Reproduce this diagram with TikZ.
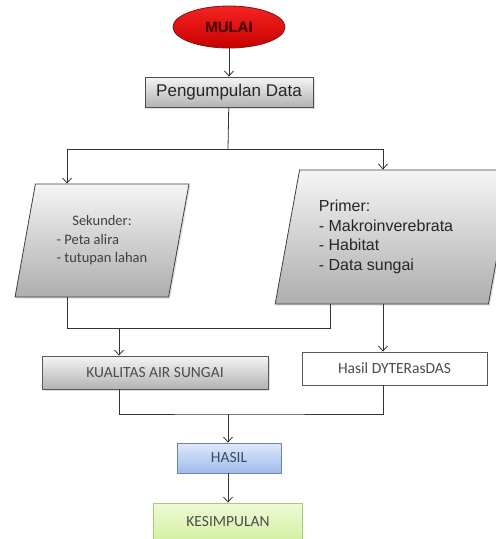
\documentclass[tikz,border=0pt]{standalone}
\usepackage{fontspec}
\setmainfont{Carlito}
\newfontfamily\arialfont{Liberation Sans}
\usetikzlibrary{arrows.meta,shapes.geometric,shadows,calc}

\definecolor{merahA}{RGB}{245,35,35}
\definecolor{merahB}{RGB}{200,0,0}
\definecolor{merahC}{RGB}{130,20,20}
\definecolor{biruA}{RGB}{222,232,250}
\definecolor{biruB}{RGB}{160,188,236}
\definecolor{biruC}{RGB}{110,130,170}
\definecolor{hijauA}{RGB}{240,250,215}
\definecolor{hijauB}{RGB}{210,240,160}
\definecolor{hijauC}{RGB}{170,200,120}

\tikzset{
  garis/.style={draw=black!80, line width=0.8pt},
  panah/.style={garis, -{Straight Barb[length=5pt,width=9pt,line width=0.8pt]}},
  kotak/.style={rectangle, draw=black!65, line width=0.8pt, inner sep=0pt,
    font=\fontsize{15.5}{18}\selectfont, text=black!70},
  abu/.style={top color=black!4, bottom color=black!30},
  bayang/.style={drop shadow={opacity=0.25,shadow xshift=1.5pt,shadow yshift=-1.5pt}},
  jajar/.style={trapezium, trapezium stretches=true, trapezium left angle=76,
    trapezium right angle=104, draw=black!75, line width=0.8pt,
    top color=black!4, bottom color=black!32, inner sep=0pt},
}

\begin{document}
\begin{tikzpicture}[x=1pt,y=-1pt]
\clip (0,0) rectangle (496,539);
\fill[white] (0,0) rectangle (496,539);

% awal
\node[ellipse, draw=merahC, line width=0.8pt, top color=merahA, bottom color=merahB,
  minimum width=112pt, minimum height=42pt, inner sep=0pt,
  font=\arialfont\bfseries\fontsize{15}{18}\selectfont, text={rgb,255:red,60;green,0;blue,0}]
  (mulai) at (229,27) {MULAI};
\node[kotak, abu, bayang, draw=black!70, text=black!85,
  font=\arialfont\fontsize{17}{20}\selectfont,
  minimum width=168pt, minimum height=30pt] (kumpul) at (229,92) {Pengumpulan Data};
\draw[panah] (mulai) -- (kumpul);

% cabang data
\coordinate (cabang) at (228,149);
\coordinate (kiri) at (67,149);
\coordinate (kanan) at (383,149);

\node[jajar, bayang, minimum width=174pt, minimum height=113pt, text=black!75,
  font=\fontsize{14.5}{18.5}\selectfont] (sekunder) at (102,240.5)
  {\begin{tabular}{@{}l@{}}\multicolumn{1}{@{}c@{}}{Sekunder:}\\- Peta alira\\- tutupan lahan\end{tabular}};
\node[jajar, bayang, minimum width=238pt, minimum height=134pt, text=black!85,
  font=\arialfont\fontsize{16}{19.5}\selectfont] (primer) at (394,237)
  {\begin{tabular}{@{}l@{\hspace{16pt}}}Primer:\\- Makroinverebrata\\- Habitat\\- Data sungai\end{tabular}};

\draw[garis] (kumpul) -- (cabang);
\draw[garis] (kiri) -- (kanan);
\draw[panah] (kiri) -- (kiri |- sekunder.north);
\draw[panah] (kanan) -- (kanan |- primer.north);

% hasil olah
\coordinate (gabungA) at (119,328);
\coordinate (belokA) at (330,328);

\node[kotak, abu, bayang, minimum width=226pt, minimum height=33pt] (kualitas) at (155,372.5) {KUALITAS AIR SUNGAI};
\node[kotak, fill=white, minimum width=185pt, minimum height=33pt] (dyter) at (394.5,368.5) {Hasil DYTERasDAS};

\draw[garis] (sekunder.south -| kiri) |- (belokA) -- (belokA |- primer.south);
\draw[panah] (gabungA) -- (gabungA |- kualitas.north);
\draw[panah] (primer.south -| kanan) -- (kanan |- dyter.north);

% akhir
\coordinate (gabungB) at (228,414);
\node[kotak, top color=biruA, bottom color=biruB, draw=biruC, text={rgb,255:red,60;green,75;blue,100},
  minimum width=104pt, minimum height=30pt] (hasil) at (229,458) {HASIL};
\node[kotak, top color=hijauA, bottom color=hijauB, draw=hijauC,
  minimum width=149pt, minimum height=38pt] (simpulan) at (228,522) {KESIMPULAN};

\draw[garis] (kualitas.south -| gabungA) |- (gabungB) -| (dyter.south -| kanan);
\draw[panah] (gabungB) -- (gabungB |- hasil.north);
\draw[panah] (hasil.south -| gabungB) -- (gabungB |- simpulan.north);
\end{tikzpicture}
\end{document}
